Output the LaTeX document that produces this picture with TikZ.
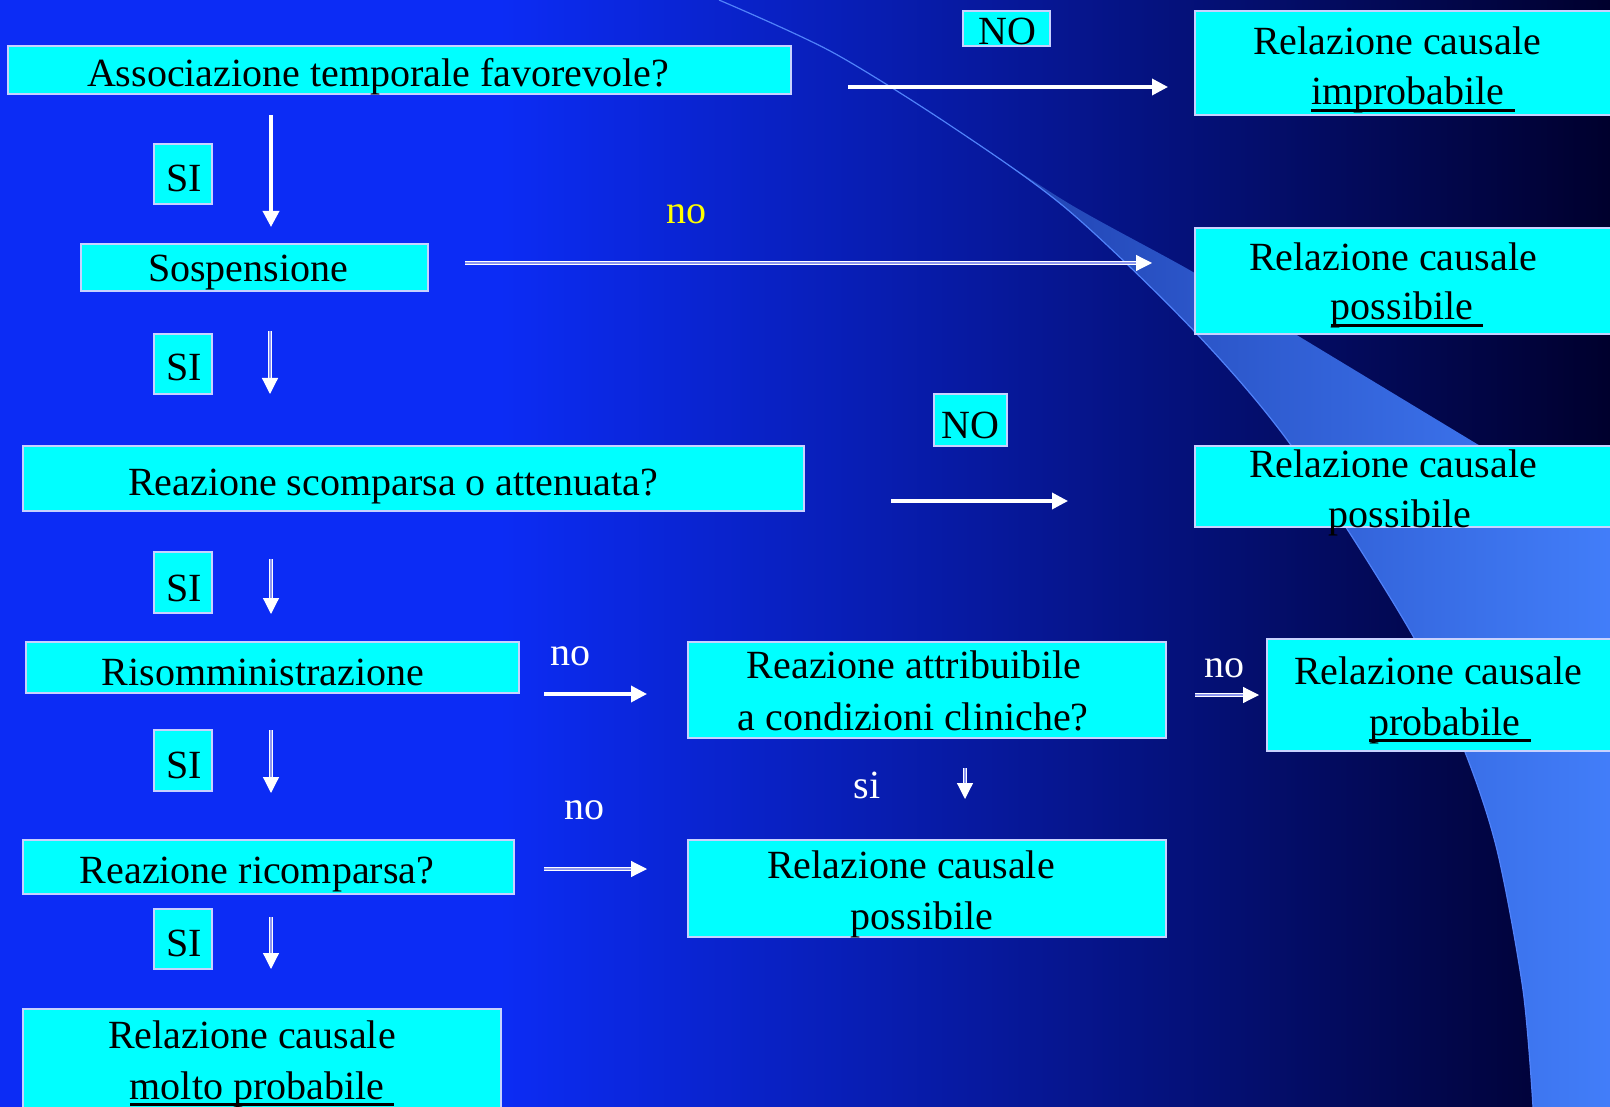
\documentclass[tikz,border=0pt]{standalone}
\usepackage{fontspec}
\setmainfont{Liberation Serif}
\usetikzlibrary{arrows.meta}
\definecolor{bgL}{RGB}{12,44,245}
\definecolor{bgR}{RGB}{0,0,45}
\definecolor{bandL}{RGB}{30,62,172}
\definecolor{bandR}{RGB}{66,126,250}
\definecolor{edgec}{RGB}{80,130,250}
\definecolor{boxfill}{RGB}{0,255,255}
\definecolor{boxline}{RGB}{200,210,255}
\definecolor{gapc}{RGB}{140,150,240}
\definecolor{ylw}{RGB}{255,255,0}
\newcommand\ulx[1]{\setbox0\hbox{#1}\rlap{\rule[-7pt]{\wd0}{3pt}}\box0}
\begin{document}
\begin{tikzpicture}[x=1pt,y=-1pt,
  box/.style={draw=boxline, line width=1.2pt, fill=boxfill, inner sep=0pt},
  txt/.style={anchor=base, inner sep=0pt, font=\fontsize{40}{48}\selectfont},
  lbl/.style={txt, text=white},
  solidarr/.style={draw=white, line width=3.5pt, -{Triangle[length=16pt,width=16pt]}},
  dblarr/.style={draw=white, line width=1.2pt, double=gapc, double distance=2.5pt, -{Triangle[length=16pt,width=16pt,fill=white]}}
]
\useasboundingbox (0,0) rectangle (1610,1107);
\clip (0,0) rectangle (1610,1107);
% background
\fill[bgL] (0,0) rectangle (501,1107);
\shade[left color=bgL, right color=bgR] (500,0) rectangle (1610,1107);
% swoosh band
\path[left color=bandL, right color=bandR]
  plot[smooth] coordinates {(954,128) (1068,210) (1195,332) (1293,448) (1413,636) (1465,752) (1497,850) (1523,990) (1533,1107)}
  -- (1615,1107) -- (1615,520)
  -- plot[smooth] coordinates {(1477,444) (1300,337) (1193,272) (1068,203) (954,128)} -- cycle;
\draw[edgec, line width=1.2pt] plot[smooth] coordinates {(719,0) (832,52) (954,128) (1068,210) (1195,332) (1293,448) (1413,636) (1465,752) (1497,850) (1523,990) (1533,1107)};
% boxes
\node[box, minimum width=783pt, minimum height=48pt] (assoc) at (399.5,70) {};
\node[box, minimum width=87pt, minimum height=35pt] (no1) at (1006.5,28.5) {};
\node[box, minimum width=420pt, minimum height=104pt] (r1) at (1405,63) {};
\node[box, minimum width=58pt, minimum height=60pt] (si1) at (183,174) {};
\node[box, minimum width=347pt, minimum height=47pt] (sosp) at (254.5,267.5) {};
\node[box, minimum width=420pt, minimum height=106pt] (r2) at (1405,281) {};
\node[box, minimum width=58pt, minimum height=60pt] (si2) at (183,364) {};
\node[box, minimum width=73pt, minimum height=52pt] (no2) at (970.5,420) {};
\node[box, minimum width=781pt, minimum height=65pt] (scomp) at (413.5,478.5) {};
\node[box, minimum width=420pt, minimum height=81pt] (r3) at (1405,486.5) {};
\node[box, minimum width=58pt, minimum height=61pt] (si3) at (183,582.5) {};
\node[box, minimum width=493pt, minimum height=51pt] (risom) at (272.5,667.5) {};
\node[box, minimum width=478pt, minimum height=96pt] (attr) at (927,690) {};
\node[box, minimum width=348pt, minimum height=112pt] (r4) at (1441,695) {};
\node[box, minimum width=58pt, minimum height=61pt] (si4) at (183,760.5) {};
\node[box, minimum width=491pt, minimum height=54pt] (ricomp) at (268.5,867) {};
\node[box, minimum width=478pt, minimum height=97pt] (r5) at (927,888.5) {};
\node[box, minimum width=58pt, minimum height=60pt] (si5) at (183,939) {};
\node[box, minimum width=478pt, minimum height=106pt] (r6) at (262,1062) {};
% texts in boxes
\node[txt] (t1) at (378,87) {Associazione temporale favorevole?};
\node[txt] (tno1) at (1007,45) {NO};
\node[txt] (tr1a) at (1397,55) {Relazione causale};
\node[txt] (tr1b) at (1413,105) {\ulx{improbabile\ }};
\node[txt] (tsi1) at (184,192) {SI};
\node[txt] (tsosp) at (248,282) {Sospensione};
\node[txt] (tr2a) at (1393,271) {Relazione causale};
\node[txt] (tr2b) at (1407,320) {\ulx{possibile\ }};
\node[txt] (tsi2) at (184,381) {SI};
\node[txt] (tno2) at (970,438) {NO};
\node[txt] (tscomp) at (393,495) {Reazione scomparsa o attenuata?};
\node[txt] (tr3a) at (1393,477) {Relazione causale};
\node[txt] (tr3b) at (1400,527) {possibile};
\node[txt] (tsi3) at (184,601) {SI};
\node[txt] (trisom) at (263,685) {Risomministrazione};
\node[txt] (tattr1) at (914,678) {Reazione attribuibile};
\node[txt] (tattr2) at (913,730) {a condizioni cliniche?};
\node[txt] (tr4a) at (1438,684) {Relazione causale};
\node[txt] (tr4b) at (1450,735) {\ulx{probabile\ }};
\node[txt] (tsi4) at (184,778) {SI};
\node[txt] (tricomp) at (257,883) {Reazione ricomparsa?};
\node[txt] (tr5a) at (911,878) {Relazione causale};
\node[txt] (tr5b) at (922,929) {possibile};
\node[txt] (tsi5) at (184,956) {SI};
\node[txt] (tr6a) at (252,1048) {Relazione causale};
\node[txt] (tr6b) at (262,1099) {\ulx{molto probabile\ }};
% free labels
\node[txt, text=ylw] (lno1) at (686,224) {no};
\node[lbl] (lno2) at (570,665) {no};
\node[lbl] (lno3) at (1224,677) {no};
\node[lbl] (lsi) at (867,798) {si};
\node[lbl] (lno4) at (584,819) {no};
% arrow end points
\coordinate (a1s) at (848,87);   \coordinate (a1e) at (1168,87);
\coordinate (a2s) at (271,115);  \coordinate (a2e) at (271,227);
\coordinate (a3s) at (465,263);  \coordinate (a3e) at (1152,263);
\coordinate (a4s) at (270,331);  \coordinate (a4e) at (270,394);
\coordinate (a5s) at (891,501);  \coordinate (a5e) at (1068,501);
\coordinate (a6s) at (271,559);  \coordinate (a6e) at (271,614);
\coordinate (a7s) at (544,694);  \coordinate (a7e) at (647,694);
\coordinate (a8s) at (1195,695); \coordinate (a8e) at (1259,695);
\coordinate (a9s) at (271,730);  \coordinate (a9e) at (271,793);
\coordinate (a10s) at (965,768); \coordinate (a10e) at (965,799);
\coordinate (a11s) at (544,869); \coordinate (a11e) at (647,869);
\coordinate (a12s) at (271,917); \coordinate (a12e) at (271,969);
% arrows
\draw[solidarr] (a1s) -- (a1e);
\draw[solidarr] (a2s) -- (a2e);
\draw[dblarr] (a3s) -- (a3e);
\draw[dblarr] (a4s) -- (a4e);
\draw[solidarr] (a5s) -- (a5e);
\draw[dblarr] (a6s) -- (a6e);
\draw[solidarr] (a7s) -- (a7e);
\draw[dblarr] (a8s) -- (a8e);
\draw[dblarr] (a9s) -- (a9e);
\draw[dblarr] (a10s) -- (a10e);
\draw[dblarr] (a11s) -- (a11e);
\draw[dblarr] (a12s) -- (a12e);
\end{tikzpicture}
\end{document}
